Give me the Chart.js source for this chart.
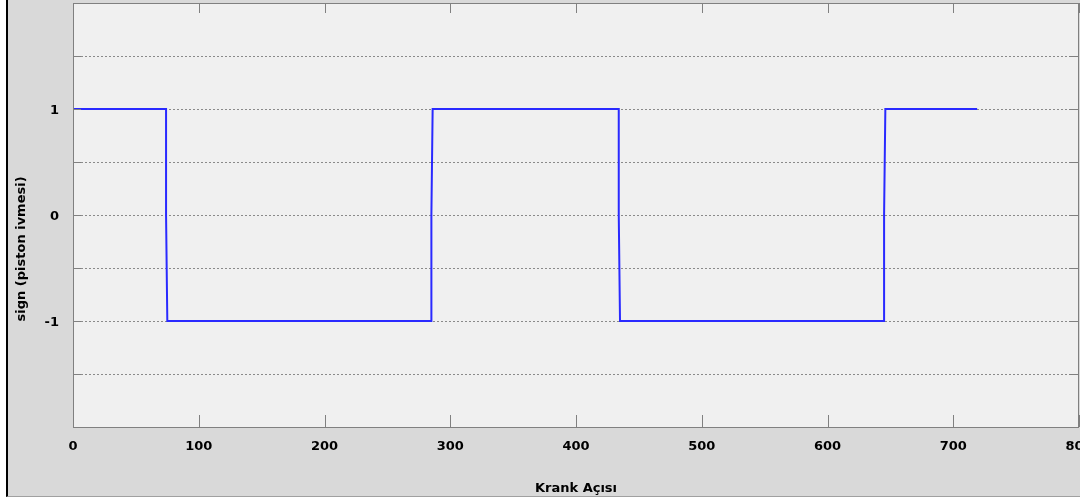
<!DOCTYPE html>
<html>
<head>
<meta charset="utf-8">
<script src="https://cdn.jsdelivr.net/npm/chart.js@4"></script>
<style>
    html, body { margin: 0; padding: 0; background: #ffffff; overflow: hidden; }
    #frame {
        position: absolute; left: 6px; top: 0; width: 1100px; height: 496px;
        background: #d9d9d9; border-left: 2px solid #000; border-bottom: 1px solid #a0a0a0;
    }
    #wrap { position: relative; width: 1092px; height: 496px; }
</style>
</head>
<body>
<div id="frame"><div id="wrap"><canvas id="signChart"></canvas></div></div>
<script>
// krank açısı (derece) ve piston ivmesinin işareti
const crankAngle = [0, 74, 74, 75, 285, 285, 286, 434, 434, 435, 645, 645, 646, 719];
const signValue  = [1, 1, 0, -1, -1, 0, 1, 1, 0, -1, -1, 0, 1, 1];
const xTicks = [0, 100, 200, 300, 400, 500, 600, 700, 800];
const yLabels = [-1, 0, 1];
const yTitle = "sign (piston ivmesi)";

let points = [];
for (let i = 0; i < crankAngle.length; i++) {
    points.push({ x: crankAngle[i], y: signValue[i] });
}

const FONT = "'DejaVu Sans', sans-serif";

// çizim alanı zemini, çerçeve ve içe dönük tik çizgileri
const frameBox = {
    id: "frameBox",
    beforeDraw(chart) {
        const { ctx, chartArea: a } = chart;
        ctx.save();
        ctx.fillStyle = "#f0f0f0";
        ctx.fillRect(a.left, a.top, a.right - a.left, a.bottom - a.top);
        ctx.restore();
    },
    afterDraw(chart) {
        const { ctx, chartArea: a, scales } = chart;
        ctx.save();
        ctx.strokeStyle = "#808080";
        ctx.lineWidth = 1;
        ctx.strokeRect(a.left + 0.5, a.top + 0.5, a.right - a.left - 1, a.bottom - a.top);
        ctx.beginPath();
        scales.x.ticks.forEach(t => {
            const px = Math.round(scales.x.getPixelForValue(t.value)) + 0.5;
            ctx.moveTo(px, a.bottom); ctx.lineTo(px, a.bottom - 12);
            ctx.moveTo(px, a.top); ctx.lineTo(px, a.top + 10);
        });
        scales.y.ticks.forEach(t => {
            const py = Math.round(scales.y.getPixelForValue(t.value)) + 0.5;
            ctx.moveTo(a.left, py); ctx.lineTo(a.left + 8, py);
            ctx.moveTo(a.right, py); ctx.lineTo(a.right - 10, py);
        });
        ctx.stroke();

        // y ekseni başlığı (biraz aşağıda duruyor)
        ctx.translate(scales.y.left + 14, scales.y.getPixelForValue(-0.32));
        ctx.rotate(-Math.PI / 2);
        ctx.fillStyle = "#000";
        ctx.font = "bold 13px " + FONT;
        ctx.textAlign = "center";
        ctx.textBaseline = "middle";
        ctx.fillText(yTitle, 0, 0);
        ctx.restore();
    }
};

const ctx = document.getElementById("signChart");
const myChart = new Chart(ctx, {
    type: "line",
    data: {
        datasets: [{
            data: points,
            borderColor: "#2a2aff",
            borderWidth: 2,
            pointRadius: 0,
            tension: 0,
            fill: false
        }]
    },
    options: {
        responsive: true,
        maintainAspectRatio: false,
        animation: false,
        layout: { padding: { top: 3, right: 21, left: 0, bottom: 0 } },
        plugins: { legend: { display: false }, tooltip: { enabled: false } },
        scales: {
            x: {
                type: "linear",
                min: 0,
                max: 800,
                afterBuildTicks: scale => { scale.ticks = xTicks.map(v => ({ value: v })); },
                afterFit: scale => {
                    scale.height = 69;
                    scale.paddingLeft = 0;
                    scale.paddingRight = 0;
                },
                grid: { display: false, drawTicks: false },
                border: { display: false },
                ticks: {
                    color: "#000",
                    font: { family: FONT, size: 13, weight: "bold" },
                    padding: 12,
                    maxRotation: 0
                },
                title: {
                    display: true,
                    text: "Krank Açısı",
                    color: "#000",
                    font: { family: FONT, size: 13, weight: "bold" },
                    padding: { top: 20, bottom: 0 }
                }
            },
            y: {
                min: -2,
                max: 2,
                afterFit: scale => {
                    scale.width = 65;
                    scale.paddingTop = 0;
                    scale.paddingBottom = 0;
                },
                ticks: {
                    stepSize: 0.5,
                    color: "#000",
                    font: { family: FONT, size: 13, weight: "bold" },
                    padding: 14,
                    labelOffset: 2,
                    callback: v => yLabels.includes(v) ? String(v) : ""
                },
                grid: {
                    drawTicks: false,
                    color: c => (c.tick.value <= -2 || c.tick.value >= 2) ? "transparent" : "#8a8a8a",
                    lineWidth: 1
                },
                border: { display: false, dash: [2, 2] },
                title: { display: false }
            }
        }
    },
    plugins: [frameBox]
});
</script>
</body>
</html>
